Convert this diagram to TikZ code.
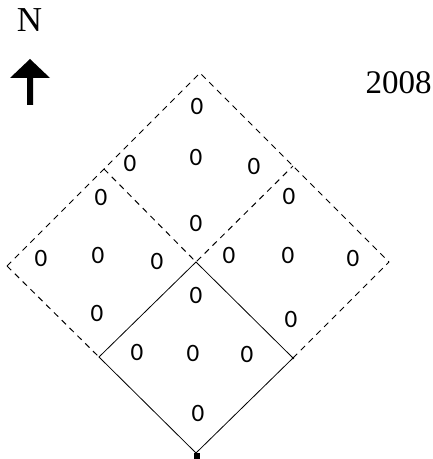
\documentclass[tikz,border=0pt]{standalone}
\usepackage{fontspec}
\setmainfont{Liberation Serif}
\newfontfamily\countfont{Carlito}
\begin{document}
\begin{tikzpicture}[x=1pt,y=1pt,
  plotedge/.style={line width=1pt, dash pattern=on 6pt off 5pt},
  coreedge/.style={line width=0.8pt},
  count/.style={font=\countfont\fontsize{25}{25}\selectfont, inner sep=0pt},
  label/.style={font=\fontsize{33}{33}\selectfont, inner sep=0pt}]
\useasboundingbox (0,0) rectangle (433,459);

% corners of the four plots
\coordinate (C)  at (196,197);
\coordinate (T)  at (200,386);
\coordinate (TL) at (104,290);
\coordinate (TR) at (293,293);
\coordinate (L)  at (7,193);
\coordinate (R)  at (389,197);
\coordinate (BL) at (99,102);
\coordinate (BR) at (293,101);
\coordinate (B)  at (196,6);

% outer plots (dashed)
\draw[plotedge] (L) -- (TL) -- (T) -- (TR) -- (R);
\draw[plotedge] (TL) -- (C) -- (TR);
\draw[plotedge] (L) -- (BL);
\draw[plotedge] (BR) -- (R);
% central plot (solid)
\draw[coreedge] (C) -- (BL) -- (B) -- (BR) -- cycle;
\node[fill=black, minimum size=6pt, inner sep=0pt] (mark) at (196.5,3) {};
\fill (BR) circle (1.3pt);

% north arrow and year
\node[label, font=\fontsize{35}{35}\selectfont] (north) at (29.5,439) {N};
\fill (27,354) -- (27,381) -- (10,381) -- (30,400) -- (50,381) -- (33,381) -- (33,354) -- cycle;
\node[label] (year) at (398.5,376) {2008};

% counts
\node[count] (n1)  at (197,353) {0};
\node[count] (n2)  at (130,296) {0};
\node[count] (n3)  at (196,302) {0};
\node[count] (n4)  at (254,293) {0};
\node[count] (n5)  at (101,262) {0};
\node[count] (n6)  at (196,236) {0};
\node[count] (n7)  at (289,263) {0};
\node[count] (n8)  at (41,201) {0};
\node[count] (n9)  at (98,204) {0};
\node[count] (n10) at (157,198) {0};
\node[count] (n11) at (229,204) {0};
\node[count] (n12) at (288,204) {0};
\node[count] (n13) at (353,201) {0};
\node[count] (n14) at (196,164) {0};
\node[count] (n15) at (97,146) {0};
\node[count] (n16) at (291,140) {0};
\node[count] (n17) at (137,107) {0};
\node[count] (n18) at (193,106) {0};
\node[count] (n19) at (247,105) {0};
\node[count] (n20) at (198,46) {0};
\end{tikzpicture}
\end{document}
